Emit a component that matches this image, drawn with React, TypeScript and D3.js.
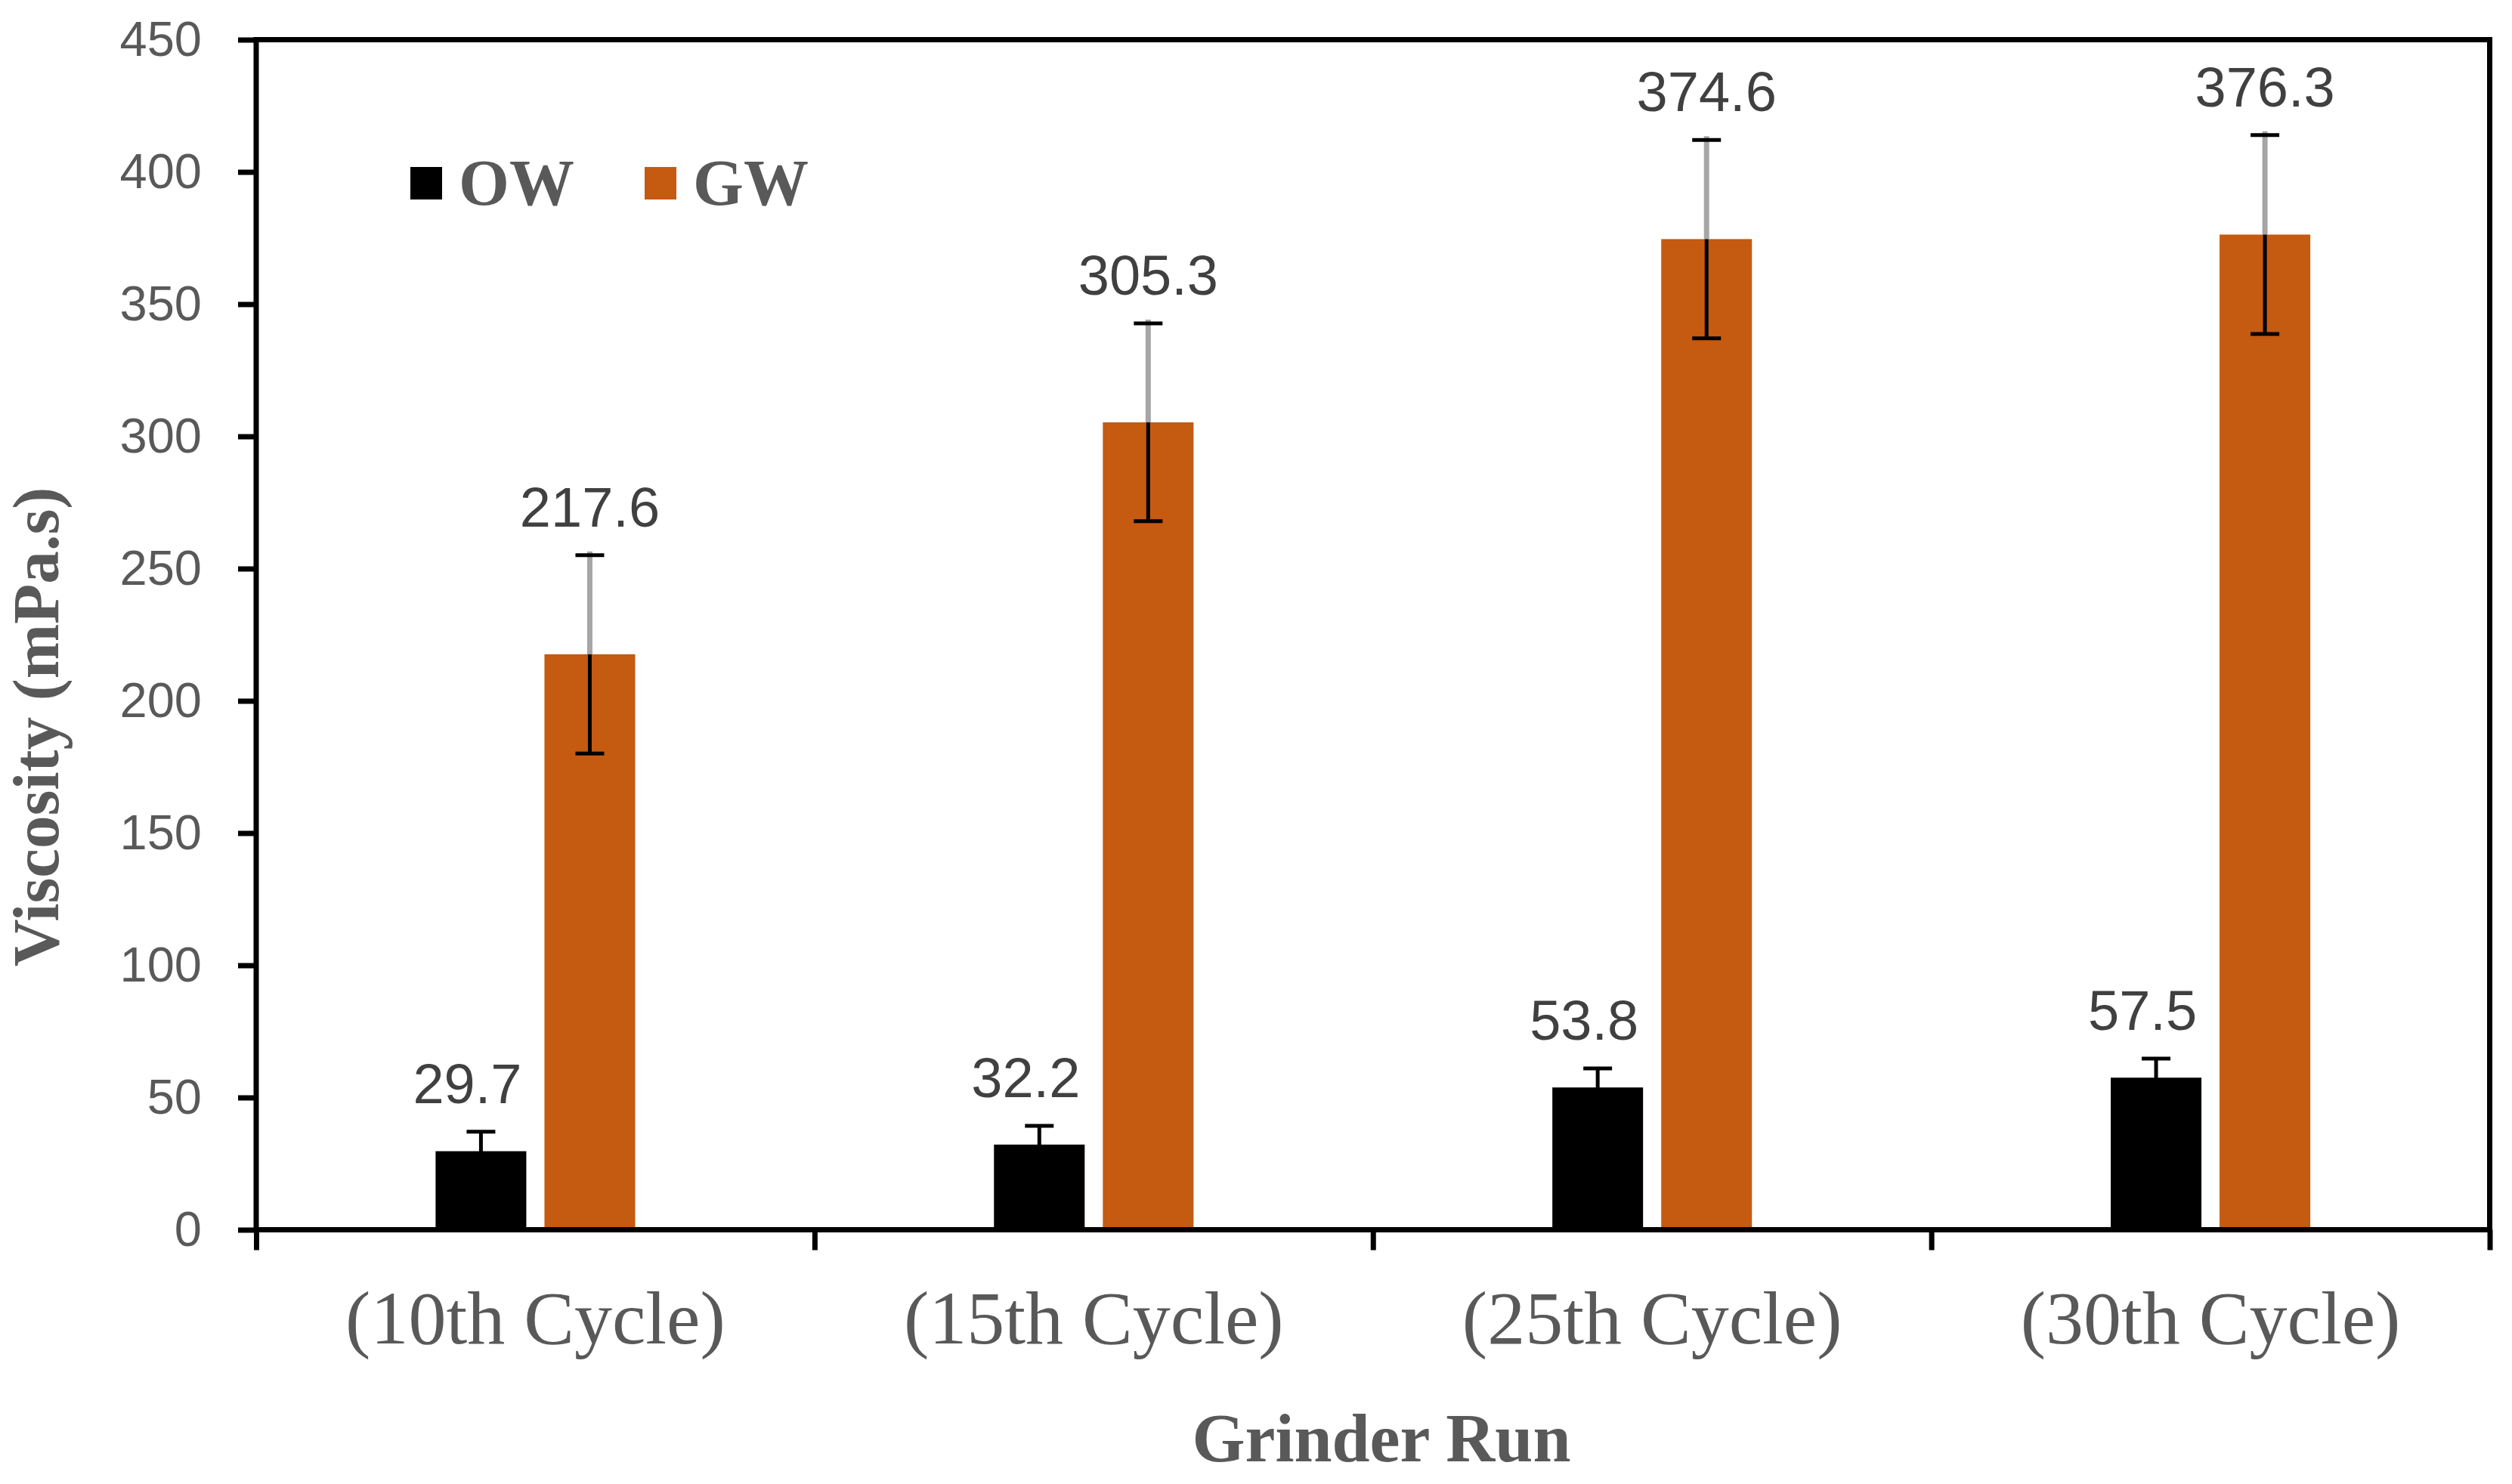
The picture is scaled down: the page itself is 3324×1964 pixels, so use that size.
import React, { useEffect, useRef } from 'react';
import * as d3 from 'd3';

// Data
const categories = ['(10th Cycle)', '(15th Cycle)', '(25th Cycle)', '(30th Cycle)'];
const seriesNames = ['OW', 'GW'];
const owValues = [29.7, 32.2, 53.8, 57.5];
const gwValues = [217.6, 305.3, 374.6, 376.3];
const owErrors = [7.4, 7.1, 7.2, 7.2];
const gwErrors = [37.5, 37.4, 37.5, 37.6];
const yTicks = [0, 50, 100, 150, 200, 250, 300, 350, 400, 450];

const colors: Record<string, string> = { OW: '#000000', GW: '#C55A11' };

const W = 3324;
const H = 1964;
const margin = { top: 52.5, right: 29.5, bottom: 336.5, left: 339 };

const App: React.FC = () => {
    const ref = useRef<SVGSVGElement>(null);

    useEffect(() => {
        draw();
        //eslint-disable-next-line
    }, []);

    const draw = () => {
        const innerW = W - margin.left - margin.right;
        const innerH = H - margin.top - margin.bottom;

        const svg = d3.select(ref.current);
        svg.selectAll('*').remove();

        const g = svg.append('g').attr('transform', `translate(${margin.left},${margin.top})`);

        // scales
        const x0 = d3.scaleBand<string>().domain(categories).range([0, innerW]).padding(0);
        const x1 = d3.scaleBand<string>().domain(seriesNames).range([0, x0.bandwidth()])
            .paddingInner(1 / 6).paddingOuter(1.648);
        const y = d3.scaleLinear().domain([0, 450]).range([innerH, 0]);
        const bounds = d3.scaleLinear().domain([0, categories.length]).range([0, innerW]);

        const rows = categories.map((c, i) => ({
            cat: c,
            items: [
                { key: 'OW', value: owValues[i], err: owErrors[i] },
                { key: 'GW', value: gwValues[i], err: gwErrors[i] },
            ],
        }));

        // Y axis
        const yAxis = g.append('g').call(
            d3.axisLeft(y).tickValues(yTicks).tickSize(24).tickSizeOuter(0).tickPadding(48)
        );
        yAxis.select('.domain').remove();
        yAxis.selectAll('.tick line').attr('stroke', '#000').attr('stroke-width', 7);
        yAxis.selectAll('.tick text')
            .attr('font-family', '"Liberation Sans", Arial, sans-serif')
            .attr('font-size', 65)
            .attr('fill', '#595959');

        // X axis ticks between categories
        const xAxis = g.append('g').attr('transform', `translate(0,${innerH})`).call(
            d3.axisBottom(bounds).ticks(categories.length).tickSize(27).tickSizeOuter(0).tickFormat(() => '')
        );
        xAxis.select('.domain').remove();
        xAxis.selectAll('.tick line').attr('stroke', '#000').attr('stroke-width', 7);

        // category labels
        g.append('g').selectAll('text').data(categories).enter().append('text')
            .attr('x', d => (x0(d) as number) + x0.bandwidth() / 2)
            .attr('y', innerH + 150)
            .attr('text-anchor', 'middle')
            .attr('font-family', '"Liberation Serif", "Times New Roman", serif')
            .attr('font-size', 100)
            .attr('fill', '#595959')
            .text(d => d);

        // bars
        const groups = g.append('g').selectAll('g').data(rows).enter().append('g')
            .attr('transform', d => `translate(${x0(d.cat)},0)`);

        groups.selectAll('rect').data(d => d.items).enter().append('rect')
            .attr('x', d => x1(d.key) as number)
            .attr('width', x1.bandwidth())
            .attr('y', d => y(d.value))
            .attr('height', d => innerH - y(d.value))
            .attr('fill', d => colors[d.key]);

        const cx = (k: string) => (x1(k) as number) + x1.bandwidth() / 2;

        // error bar stems
        groups.selectAll('line.stem').data(d => d.items).enter().append('line')
            .attr('class', 'stem')
            .attr('x1', d => cx(d.key)).attr('x2', d => cx(d.key))
            .attr('y1', d => y(d.value - d.err)).attr('y2', d => y(d.value + d.err))
            .attr('stroke', '#000').attr('stroke-width', 5);

        // leader lines for GW labels
        groups.selectAll('line.leader').data(d => d.items.filter(it => it.key === 'GW')).enter().append('line')
            .attr('class', 'leader')
            .attr('x1', d => cx(d.key)).attr('x2', d => cx(d.key))
            .attr('y1', d => y(d.value)).attr('y2', d => y(d.value + d.err) - 5)
            .attr('stroke', '#A6A6A6').attr('stroke-width', 7);

        // error caps
        ['lo', 'hi'].forEach(side => {
            groups.selectAll(`line.cap-${side}`).data(d => d.items).enter().append('line')
                .attr('class', `cap-${side}`)
                .attr('x1', d => cx(d.key) - 19).attr('x2', d => cx(d.key) + 19)
                .attr('y1', d => y(side === 'hi' ? d.value + d.err : d.value - d.err))
                .attr('y2', d => y(side === 'hi' ? d.value + d.err : d.value - d.err))
                .attr('stroke', '#000').attr('stroke-width', 5);
        });

        // data labels
        groups.selectAll('text.lbl').data(d => d.items).enter().append('text')
            .attr('class', 'lbl')
            .attr('x', d => cx(d.key) + (d.key === 'OW' ? -18 : 0))
            .attr('y', d => y(d.value + d.err) - 38)
            .attr('text-anchor', 'middle')
            .attr('font-family', '"Liberation Sans", Arial, sans-serif')
            .attr('font-size', 74)
            .attr('fill', '#404040')
            .text(d => d.value.toFixed(1));

        // frame
        g.append('rect')
            .attr('x', 0).attr('y', 0)
            .attr('width', innerW).attr('height', innerH)
            .attr('fill', 'none').attr('stroke', '#000').attr('stroke-width', 7);

        // legend
        const legend = g.append('g').attr('transform', `translate(${543 - margin.left},${221 - margin.top})`);
        const legendItems = legend.selectAll('g').data(seriesNames).enter().append('g')
            .attr('transform', (_d, i) => `translate(${i * 310},0)`);
        legendItems.append('rect')
            .attr('width', 42).attr('height', 43)
            .attr('fill', d => colors[d]);
        legendItems.append('text')
            .attr('x', 64).attr('y', 50)
            .attr('font-family', '"Liberation Serif", "Times New Roman", serif')
            .attr('font-weight', 'bold')
            .attr('font-size', 86)
            .attr('fill', '#595959')
            .text(d => d);

        // axis titles
        svg.append('text')
            .attr('transform', `translate(77,962) rotate(-90)`)
            .attr('text-anchor', 'middle')
            .attr('font-family', '"Liberation Serif", "Times New Roman", serif')
            .attr('font-weight', 'bold')
            .attr('font-size', 87)
            .attr('fill', '#595959')
            .text('Viscosity (mPa.s)');

        svg.append('text')
            .attr('x', 1828).attr('y', 1934)
            .attr('text-anchor', 'middle')
            .attr('font-family', '"Liberation Serif", "Times New Roman", serif')
            .attr('font-weight', 'bold')
            .attr('font-size', 90)
            .attr('fill', '#595959')
            .text('Grinder Run');
    };

    return (
        <div style={{ position: 'absolute', left: 0, top: 0, background: '#fff' }}>
            <svg ref={ref} width={W} height={H} style={{ display: 'block' }}></svg>
        </div>
    );
};

export default App;
